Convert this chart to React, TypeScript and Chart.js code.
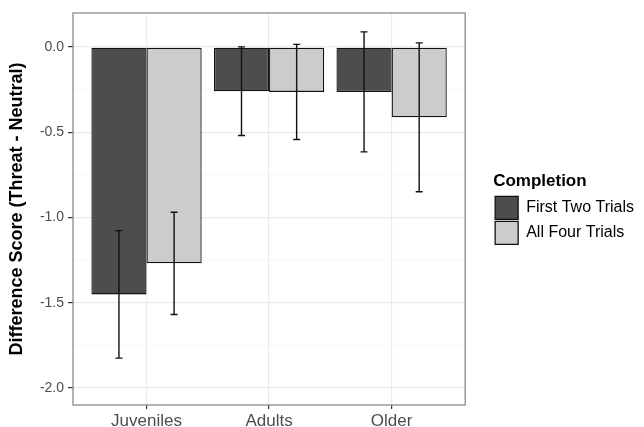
import React, { useEffect, useRef } from "react";
import { Chart, registerables } from "chart.js";

Chart.register(...registerables);

// ---- data ----
const categories = ["Juveniles", "Adults", "Older"];
const seriesNames = ["First Two Trials", "All Four Trials"];
const firstTwo = [-1.451, -0.259, -0.263];
const allFour = [-1.269, -0.263, -0.412];
const firstTwoSE = [0.374, 0.26, 0.352];
const allFourSE = [0.3, 0.279, 0.437];
const yTickValues = [0.0, -0.5, -1.0, -1.5, -2.0];

const FONT = "'Liberation Sans', Arial, Helvetica, sans-serif";
const errorSets = [firstTwoSE, allFourSE];

const isMajor = (v: number) => yTickValues.some((t) => Math.abs(t - v) < 1e-9);

const panelBorder = {
  id: "panelBorder",
  afterDraw(chart: any) {
    const { ctx, chartArea } = chart;
    ctx.save();
    ctx.strokeStyle = "#8a8a8a";
    ctx.lineWidth = 1.3;
    ctx.strokeRect(chartArea.left, chartArea.top, chartArea.right - chartArea.left, chartArea.bottom - chartArea.top);
    ctx.restore();
  },
};

const errorBars = {
  id: "errorBars",
  afterDatasetsDraw(chart: any) {
    const { ctx } = chart;
    const yScale = chart.scales.y;
    ctx.save();
    ctx.strokeStyle = "#111111";
    ctx.lineWidth = 1.4;
    chart.data.datasets.forEach((ds: any, di: number) => {
      const meta = chart.getDatasetMeta(di);
      const errs = errorSets[di];
      meta.data.forEach((bar: any, j: number) => {
        const v = ds.data[j].y;
        const e = errs[j];
        const yTop = yScale.getPixelForValue(v + e);
        const yBot = yScale.getPixelForValue(v - e);
        const x = bar.x;
        const hw = 3.5;
        ctx.beginPath();
        ctx.moveTo(x, yTop);
        ctx.lineTo(x, yBot);
        ctx.moveTo(x - hw, yTop);
        ctx.lineTo(x + hw, yTop);
        ctx.moveTo(x - hw, yBot);
        ctx.lineTo(x + hw, yBot);
        ctx.stroke();
      });
    });
    ctx.restore();
  },
};

export default function App() {
  const canvasRef = useRef<HTMLCanvasElement | null>(null);

  useEffect(() => {
    document.body.style.margin = "0";
    const canvas = canvasRef.current;
    if (!canvas) return;
    const chart = new Chart(canvas, {
      type: "bar",
      data: {
        datasets: [
          {
            label: seriesNames[0],
            data: firstTwo.map((v, i) => ({ x: i + 1, y: v })),
            backgroundColor: "#4d4d4d",
            borderColor: "#111111",
            borderWidth: 1.3,
            borderSkipped: false,
            categoryPercentage: 0.9,
            barPercentage: 1.0,
          },
          {
            label: seriesNames[1],
            data: allFour.map((v, i) => ({ x: i + 1, y: v })),
            backgroundColor: "#cccccc",
            borderColor: "#111111",
            borderWidth: 1.3,
            borderSkipped: false,
            categoryPercentage: 0.9,
            barPercentage: 1.0,
          },
        ],
      },
      options: {
        animation: false,
        responsive: true,
        maintainAspectRatio: false,
        layout: { padding: { top: 13, left: 0, right: 0, bottom: 0 } },
        scales: {
          x: {
            type: "linear",
            min: 0.4,
            max: 3.6,
            offset: false,
            ticks: {
              stepSize: 1,
              includeBounds: false,
              autoSkip: false,
              maxRotation: 0,
              padding: 2,
              color: "#4d4d4d",
              font: { family: FONT, size: 17 },
              callback: (v: any) => categories[Math.round(Number(v)) - 1] ?? "",
            },
            grid: {
              offset: false,
              color: "#ebebeb",
              lineWidth: 1.2,
              tickColor: "#333333",
              tickLength: 4,
            },
            border: { display: false },
            afterFit: (s: any) => {
              s.height = 22;
            },
          },
          y: {
            type: "linear",
            min: -2.1,
            max: 0.2,
            ticks: {
              stepSize: 0.25,
              includeBounds: false,
              autoSkip: false,
              padding: 4,
              color: "#4d4d4d",
              font: { family: FONT, size: 14 },
              callback: (v: any) => (isMajor(Number(v)) ? Number(v).toFixed(1) : ""),
            },
            grid: {
              color: (c: any) => (c.tick && isMajor(c.tick.value) ? "#ebebeb" : "#f4f4f4"),
              lineWidth: (c: any) => (c.tick && isMajor(c.tick.value) ? 1.2 : 0.7),
              tickColor: (c: any) => (c.tick && isMajor(c.tick.value) ? "#333333" : "rgba(0,0,0,0)"),
              tickLength: 5,
            },
            border: { display: false },
            title: {
              display: true,
              text: "Difference Score (Threat - Neutral)",
              color: "#000000",
              font: { family: FONT, size: 18, weight: "bold" },
              padding: { top: 6, bottom: 4 },
            },
            afterFit: (s: any) => {
              s.width = 73;
            },
          },
          gap: {
            type: "linear",
            position: "right",
            display: true,
            grid: { display: false, drawTicks: false },
            ticks: { display: false },
            border: { display: false },
            afterFit: (s: any) => {
              s.width = 28;
            },
          },
        },
        plugins: {
          legend: {
            display: true,
            position: "right",
            align: "start",
            maxWidth: 200,
            title: {
              display: true,
              text: "Completion",
              position: "start",
              color: "#000000",
              font: { family: FONT, size: 17, weight: "bold" },
              padding: { top: 160, bottom: 1 },
            },
            labels: {
              boxWidth: 23,
              boxHeight: 23,
              padding: 2,
              color: "#000000",
              font: { family: FONT, size: 16 },
            },
          },
          tooltip: { enabled: false },
        },
      },
      plugins: [errorBars, panelBorder],
    } as any);
    return () => chart.destroy();
  }, []);

  return (
    <div style={{ width: 644, height: 427, position: "relative" }}>
      <canvas ref={canvasRef} />
    </div>
  );
}
